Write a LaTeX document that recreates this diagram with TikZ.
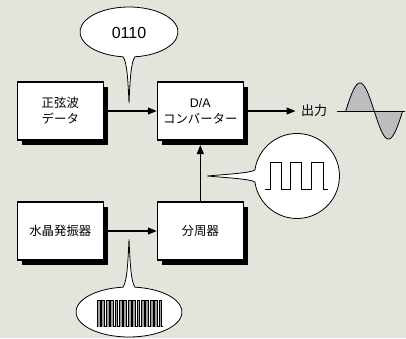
\documentclass[tikz,border=0pt]{standalone}
\usepackage{fontspec}
\setmainfont{Liberation Sans}
\newfontfamily\jp{Noto Sans CJK JP}
\usetikzlibrary{arrows.meta,shadows}
\definecolor{bgcol}{HTML}{E4E3DC}
\definecolor{sinegray}{HTML}{BDBDC0}
\definecolor{pulsegray}{HTML}{A0A0A0}
\tikzset{
  blockbox/.style={draw=black, line width=1.1pt, fill=white, minimum width=86pt, minimum height=58pt,
    inner sep=0pt, align=center, font=\fontsize{12.4}{16}\selectfont,
    drop shadow={shadow xshift=4.5pt, shadow yshift=-4.5pt, fill=black, opacity=1}},
  conn/.style={line width=1.2pt, -{Triangle[length=9pt,width=7pt]}},
  bubble/.style={draw=black, line width=0.8pt, fill=white},
  wave/.style={draw=black, line width=0.7pt},
}
\begin{document}
\begin{tikzpicture}[x=1pt,y=1pt]
\fill[bgcol] (0,0) rectangle (406,338);
\useasboundingbox (0,0) rectangle (406,338);

% bubbles (behind arrows)
\draw[bubble] (129,235) .. controls (130,258) and (131,276) .. (134.97,281.19)
  arc[start angle=-83, end angle=263, x radius=49pt, y radius=25pt]
  .. controls (127,276) and (128,258) .. cycle;
\node (BITS) at (129,305.5) {\fontsize{16}{19}\selectfont 0110};

\draw[bubble] (129,98.7) .. controls (128,76) and (127,56) .. (123.0,50.84)
  arc[start angle=96.5, end angle=443.5, x radius=53pt, y radius=25pt]
  .. controls (131,56) and (130,76) .. cycle;

\draw[bubble] (207.3,162) .. controls (230,164) and (250,165) .. (254.9,168)
  arc[start angle=171.9, end angle=-171.9, radius=42.5pt]
  .. controls (250,159) and (230,160) .. cycle;

% blocks
\node[blockbox] (SIN) at (60.3,227) {{\jp 正弦波}\\{\jp データ}};
\node[blockbox] (DA) at (200.3,227) {D/A\\{\jp コンバーター}};
\node[blockbox] (XTAL) at (60.3,107) {{\jp 水晶発振器}};
\node[blockbox] (DIV) at (200.3,107) {{\jp 分周器}};

% output label
\node[inner xsep=5.5pt, inner ysep=0pt, font=\fontsize{13}{15}\selectfont] (OUT) at (314.2,227) {\jp 出力};
\coordinate (AX0) at (336.7,227);
\coordinate (AX1) at (404.5,227);

% connectors
\draw[conn] ([xshift=4.5pt]SIN.east) -- (DA.west);
\draw[conn] ([xshift=4.5pt]XTAL.east) -- (DIV.west);
\draw[conn] (DIV.north) -- ([yshift=-4.5pt]DA.south);
\draw[conn] ([xshift=4.5pt]DA.east) -- (OUT.west);

% sine wave
\fill[sinegray] plot[domain=0:57, samples=80] ({345.7+\x}, {227+28*sin(\x/57*360)}) -- cycle;
\draw[line width=0.9pt] (AX0) -- (AX1);
\draw[line width=0.8pt] plot[domain=0:57, samples=80] ({345.7+\x}, {227+28*sin(\x/57*360)});

% square wave in circle bubble
\draw[wave] (265,149) -- (270.7,149) -- (270.7,175.7) -- (281.2,175.7) -- (281.2,149)
  -- (290.8,149) -- (290.8,175.7) -- (301.8,175.7) -- (301.8,149)
  -- (311.8,149) -- (311.8,175.7) -- (323.2,175.7) -- (323.2,149) -- (327.7,149);

% dense pulse train in lower bubble
\foreach \i in {0,...,14}{
  \fill[pulsegray] ({97.2+4.4*\i},11.3) rectangle ({100.0+4.4*\i},37.3);
}
\draw[line width=0.45pt] (96.7,11.3)
  \foreach \i in {0,...,14}{ -- ({97.2+4.4*\i},11.3) -- ({97.2+4.4*\i},37.3) -- ({100.0+4.4*\i},37.3) -- ({100.0+4.4*\i},11.3) }
  -- (162.7,11.3);
\end{tikzpicture}
\end{document}
